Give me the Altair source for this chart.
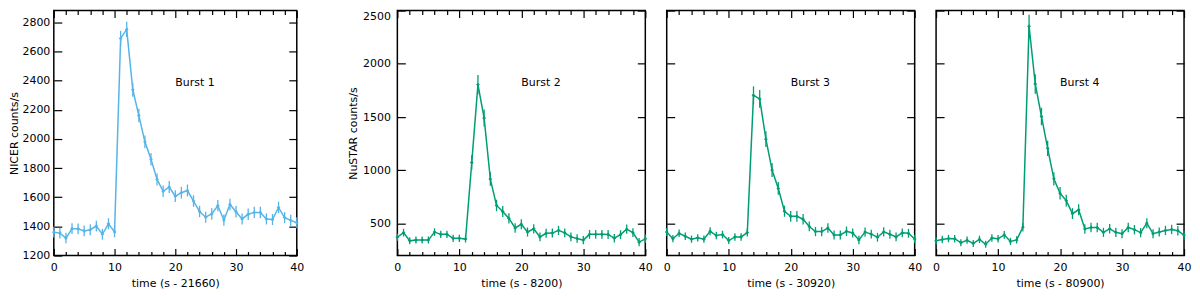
import altair as alt
import pandas as pd

# ---------------- data ----------------
time_s = list(range(41))

burst1_rate = [1360, 1354, 1320, 1384, 1383, 1369, 1377, 1402, 1346, 1418, 1362,
               2689, 2751, 2337, 2160, 1980, 1860, 1722, 1641, 1670, 1607, 1631,
               1646, 1574, 1502, 1463, 1485, 1542, 1443, 1550, 1500, 1451, 1483,
               1496, 1496, 1451, 1447, 1530, 1460, 1441, 1425]
burst1_err = [37, 37, 36, 37, 37, 37, 37, 37, 37, 38, 37, 52, 52, 48, 46, 44, 43,
              41, 40, 41, 40, 40, 41, 40, 39, 38, 39, 39, 38, 39, 39, 38, 39, 39,
              39, 38, 38, 39, 38, 38, 38]

burst2_rate = [372, 415, 338, 345, 345, 345, 420, 399, 399, 362, 362, 355, 1073,
               1805, 1491, 918, 670, 613, 549, 459, 494, 421, 451, 375, 409, 411,
               436, 413, 375, 360, 345, 399, 399, 399, 398, 363, 396, 448, 415,
               326, 357]
burst2_err = [34, 36, 33, 33, 33, 33, 36, 35, 35, 34, 34, 33, 68, 90, 80, 63, 54,
              52, 49, 45, 46, 43, 44, 41, 42, 42, 43, 42, 41, 40, 39, 42, 42, 42,
              42, 40, 42, 44, 42, 38, 40]

burst3_rate = [421, 358, 409, 381, 354, 366, 354, 428, 388, 397, 341, 375, 375,
               416, 1704, 1671, 1293, 1003, 830, 616, 568, 568, 541, 473, 425, 425,
               458, 393, 393, 428, 412, 347, 420, 401, 372, 422, 400, 375, 413,
               409, 355]
burst3_err = [37, 34, 36, 35, 34, 35, 34, 37, 35, 36, 33, 35, 35, 37, 85, 84, 74,
              66, 60, 52, 50, 50, 49, 46, 43, 43, 45, 42, 42, 44, 43, 40, 43, 42,
              41, 43, 42, 41, 42, 42, 40]

burst4_rate = [338, 350, 360, 358, 321, 344, 314, 352, 306, 364, 357, 394, 332,
               347, 466, 2354, 1811, 1506, 1207, 920, 785, 716, 594, 630, 450, 463,
               463, 418, 451, 418, 405, 464, 443, 415, 504, 405, 421, 436, 445,
               433, 391]
burst4_err = [34, 35, 35, 35, 33, 34, 33, 35, 33, 35, 35, 37, 34, 35, 40, 108, 92,
              82, 72, 63, 58, 56, 51, 52, 45, 45, 45, 43, 45, 43, 42, 45, 44, 43,
              47, 42, 43, 44, 44, 44, 42]

x_titles = ["time (s - 21660)", "time (s - 8200)", "time (s - 30920)", "time (s - 80900)"]
burst_labels = ["Burst 1", "Burst 2", "Burst 3", "Burst 4"]
nicer_yticks = [1200, 1400, 1600, 1800, 2000, 2200, 2400, 2600, 2800]
nustar_yticks = [500, 1000, 1500, 2000, 2500]
x_major = [0, 10, 20, 30, 40]
x_all = list(range(0, 41, 2))

BLUE = "#56b4e9"
GREEN = "#009e73"
FONT = "DejaVu Sans"
FS = 11
H = 246


def tick_axis(orient, offset, values, size):
    return alt.Axis(orient=orient, offset=offset, values=values, labels=False,
                    domain=False, grid=False, title="", ticks=True,
                    tickSize=size, tickColor="black", tickWidth=1.2)


def panel(rate, err, color, width, ydomain, yticks, xtitle, ytitle, label,
          label_y, y_label_pad, y_title_pad, flush):
    df = pd.DataFrame({
        "t": time_s,
        "rate": rate,
        "lo": [r - e for r, e in zip(rate, err)],
        "hi": [r + e for r, e in zip(rate, err)],
    })
    xs = alt.Scale(domain=[0, 40], nice=False, zero=False)
    ys = alt.Scale(domain=ydomain, nice=False, zero=False)
    base = alt.Chart(df)

    if ytitle:
        yax = alt.Axis(orient="left", values=yticks, ticks=False, tickSize=0,
                       domain=False, grid=False, labelPadding=y_label_pad,
                       format="d", labelFlush=flush,
                       title=ytitle, titlePadding=y_title_pad)
    else:
        yax = None

    line = base.mark_line(color=color, strokeWidth=1.5).encode(
        x=alt.X("t:Q", scale=xs,
                axis=alt.Axis(orient="bottom", values=x_major, ticks=False,
                              tickSize=0, domain=False, grid=False, format="d",
                              labelFlush=False, labelPadding=6, title=xtitle,
                              titlePadding=5)),
        y=alt.Y("rate:Q", scale=ys, axis=yax),
    )
    bars = base.mark_rule(color=color, strokeWidth=1.3).encode(
        x=alt.X("t:Q", scale=xs, axis=None),
        y=alt.Y("lo:Q", scale=ys, axis=None),
        y2="hi:Q",
    )
    pts = base.mark_point(color=color, filled=True, shape="diamond", size=14,
                          opacity=1).encode(
        x=alt.X("t:Q", scale=xs, axis=None),
        y=alt.Y("rate:Q", scale=ys, axis=None),
    )
    txt = alt.Chart(pd.DataFrame({"t": [20], "rate": [label_y], "txt": [label]})).mark_text(
        align="left", baseline="middle", font=FONT, fontSize=FS, color="black"
    ).encode(
        x=alt.X("t:Q", scale=xs, axis=None),
        y=alt.Y("rate:Q", scale=ys, axis=None),
        text="txt:N",
    )
    xsize = {"condition": {"test": "datum.value % 10 === 0", "value": 7}, "value": 4}
    ticks_a = base.mark_point(opacity=0).encode(
        x=alt.X("t:Q", scale=xs, axis=tick_axis("top", -H, x_all, xsize)),
        y=alt.Y("rate:Q", scale=ys, axis=tick_axis("right", -width, yticks, 8)),
    )
    ticks_b = base.mark_point(opacity=0).encode(
        x=alt.X("t:Q", scale=xs, axis=tick_axis("bottom", -H, x_all, xsize)),
        y=alt.Y("rate:Q", scale=ys, axis=tick_axis("left", -width, yticks, 8)),
    )
    return alt.layer(line, bars, pts, txt, ticks_a, ticks_b).resolve_axis(
        x="independent", y="independent"
    ).properties(width=width, height=H)


p1 = panel(burst1_rate, burst1_err, BLUE, 244, [1200, 2880], nicer_yticks,
           x_titles[0], "NICER counts/s", burst_labels[0], 2384, 4, 2, False)
p2 = panel(burst2_rate, burst2_err, GREEN, 249, [200, 2500], nustar_yticks,
           x_titles[1], "NuSTAR counts/s", burst_labels[1], 1820, 7, 4, True)
p3 = panel(burst3_rate, burst3_err, GREEN, 249, [200, 2500], nustar_yticks,
           x_titles[2], None, burst_labels[2], 1820, 7, 4, False)
p4 = panel(burst4_rate, burst4_err, GREEN, 249, [200, 2500], nustar_yticks,
           x_titles[3], None, burst_labels[3], 1820, 7, 4, False)

chart = alt.hconcat(
    p1, alt.hconcat(p2, p3, p4, spacing=8.5), spacing=42
).properties(
    padding={"left": 0, "top": 0, "right": 0, "bottom": 0}
).configure_view(
    stroke="black", strokeWidth=1.5
).configure_axis(
    labelFont=FONT, labelFontSize=FS, labelColor="black",
    titleFont=FONT, titleFontSize=FS, titleFontWeight="normal", titleColor="black"
)

chart.save("out.html", embed_options={"renderer": "svg", "actions": False})
